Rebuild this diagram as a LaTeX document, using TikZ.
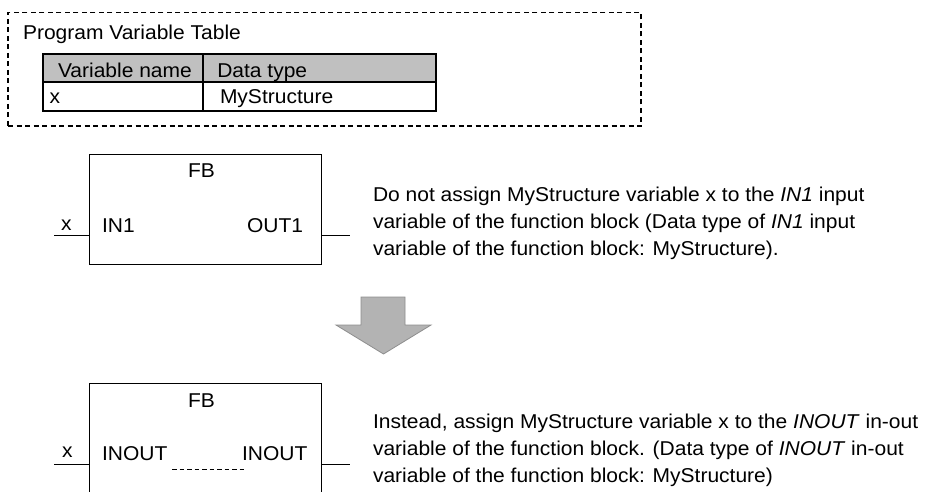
\documentclass[tikz,border=0pt]{standalone}
\usepackage{fontspec}
\setmainfont{Liberation Sans}[FakeStretch=1.05]
\definecolor{hdrgray}{HTML}{C0C0C0}
\definecolor{arrowfill}{HTML}{B3B3B3}
\definecolor{arrowedge}{HTML}{8E8E8E}
\begin{document}
\begin{tikzpicture}[x=1pt,y=-1pt,
  txt/.style={inner sep=0pt, outer sep=0pt, anchor=base west, font=\fontsize{20}{27}\selectfont},
  ctxt/.style={inner sep=0pt, outer sep=0pt, anchor=base, font=\fontsize{20}{27}\selectfont},
  fbbox/.style={draw, line width=1pt, inner sep=0pt, outer sep=0pt, anchor=north west},
  wire/.style={line width=1pt},
  cell/.style={draw, line width=1.2pt, inner sep=0pt, outer sep=0pt, anchor=north west}]
\clip (0,0) rectangle (936,492);
\fill[white] (0,0) rectangle (936,492);

% program variable table
\node[draw, dash pattern=on 5pt off 3.5pt, line width=1.3pt, inner sep=0pt, outer sep=0pt,
  anchor=north west, minimum width=633pt, minimum height=113.3pt] (frame) at (8,12.7) {};
\node[txt] (title) at (23,40) {Program Variable Table};
\node[cell, fill=hdrgray, minimum width=160pt, minimum height=28pt] (h1) at (43,54) {};
\node[cell, fill=hdrgray, minimum width=233pt, minimum height=28pt] (h2) at (203,54) {};
\node[cell, minimum width=160pt, minimum height=29pt] (r1) at (43,82) {};
\node[cell, minimum width=233pt, minimum height=29pt] (r2) at (203,82) {};
\node[txt] (h1t) at (58,77.3) {Variable name};
\node[txt] (h2t) at (217.3,77.3) {Data type};
\node[txt] (r1t) at (49.5,104) {x};
\node[txt] (r2t) at (220,104) {MyStructure};

% first function block
\node[fbbox, minimum width=232pt, minimum height=109.3pt] (fb1) at (89,154.7) {};
\node[ctxt] (fb1n) at (201.5,177.7) {FB};
\node[txt] (in1) at (102,232.7) {IN1};
\node[txt] (out1) at (247,232.7) {OUT1};
\node[txt] (x1) at (61,230) {x};
\coordinate (x1w) at (54,235.7);
\coordinate (o1e) at (350,235.7);
\draw[wire] (x1w) -- (x1w -| fb1.west);
\draw[wire] (fb1.east |- o1e) -- (o1e);
\node[txt] (t1a) at (373,201.7) {Do not assign MyStructure variable x to the \textit{IN1} input};
\node[txt] (t1b) at (373,228.5) {variable of the function block (Data type of \textit{IN1} input};
\node[txt] (t1c) at (373,255.3) {variable of the function block: MyStructure).};

% arrow
\draw[fill=arrowfill, draw=arrowedge, line width=0.8pt, line join=miter]
  (361,297) -- (405,297) -- (405,325) -- (431,325) -- (383.5,354) -- (336,325) -- (361,325) -- cycle;

% second function block
\node[fbbox, minimum width=232pt, minimum height=140pt] (fb2) at (89,383) {};
\node[ctxt] (fb2n) at (201.5,407) {FB};
\node[txt] (io1) at (102,460.7) {INOUT};
\node[txt] (io2) at (242,460.7) {INOUT};
\node[txt] (x2) at (62,457.7) {x};
\coordinate (x2w) at (54,464);
\coordinate (o2e) at (350,464);
\coordinate (d1) at (172,469);
\coordinate (d2) at (247,469);
\draw[wire] (x2w) -- (x2w -| fb2.west);
\draw[wire] (fb2.east |- o2e) -- (o2e);
\draw[line width=0.9pt, dash pattern=on 4.5pt off 3pt] (d1) -- (d2);
\node[txt] (t2a) at (373,428) {Instead, assign MyStructure variable x to the \textit{INOUT} in-out};
\node[txt] (t2b) at (373,455) {variable of the function block. (Data type of \textit{INOUT} in-out};
\node[txt] (t2c) at (373,482) {variable of the function block: MyStructure)};
\end{tikzpicture}
\end{document}
